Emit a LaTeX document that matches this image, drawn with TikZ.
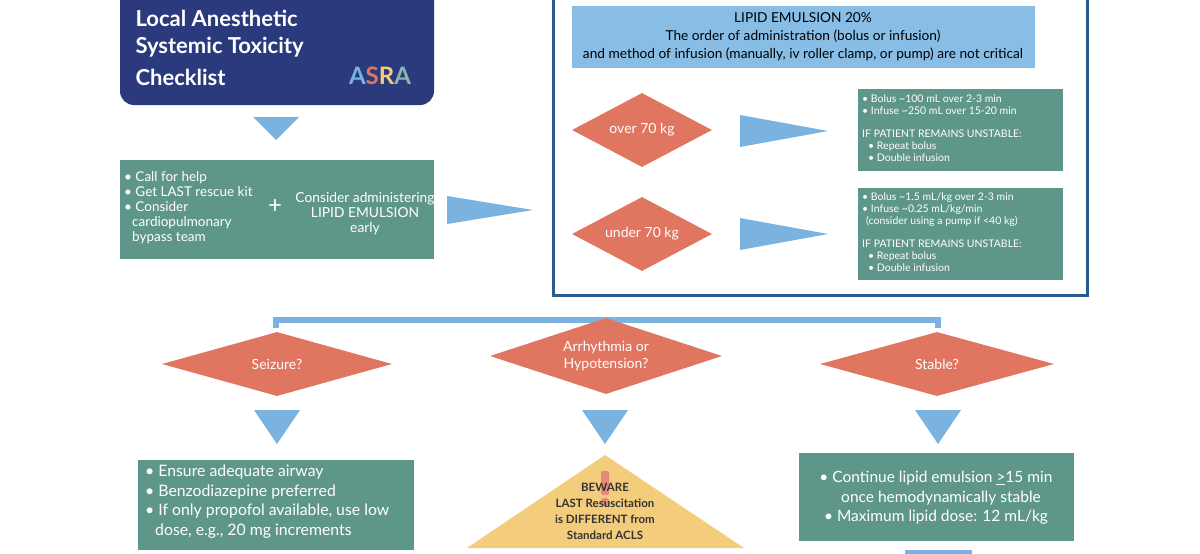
\documentclass[tikz,border=0pt]{standalone}
\usepackage{fontspec}
\setmainfont{Lato}
\usetikzlibrary{shapes.geometric}
\definecolor{navy}{HTML}{2A3A7C}
\definecolor{teal}{HTML}{5F968A}
\definecolor{lb}{HTML}{7AB3E0}
\definecolor{org}{HTML}{E07560}
\definecolor{frame}{HTML}{2D5A8E}
\definecolor{hdr}{HTML}{88BDE6}
\definecolor{yel}{HTML}{F4CD7C}
\begin{document}
\begin{tikzpicture}[x=1pt,y=-1pt,
 tri/.style={fill=lb,draw=none},
 box/.style={fill=teal,draw=none},
 dia/.style={diamond,fill=org,draw=none,inner sep=0pt},
 dl/.style={text=white,font=\fontsize{14}{17}\selectfont,align=center},
 wt/.style={text=white,align=left,inner sep=0pt,anchor=north west}]
\useasboundingbox[fill=white] (0,0) rectangle (1200,554);
\begin{scope}
\clip (0,0) rectangle (1200,554);
% title
\fill[navy,rounded corners=14] (120,-20) rectangle (434,105);
\node[anchor=west,text=white,font=\bfseries\fontsize{22}{23}\selectfont] (t1) at (132,18) {Local Anesthetic};
\node[anchor=west,text=white,font=\bfseries\fontsize{22}{23}\selectfont] (t2) at (132,47) {Systemic Toxicity};
\node[anchor=west,text=white,font=\bfseries\fontsize{22}{23}\selectfont] (t3) at (132,77) {Checklist};
\node[font=\bfseries\fontsize{24}{24}\selectfont] (logo) at (380,76) {\textcolor{lb}{A}\textcolor{org}{S}\textcolor{yel}{R}\textcolor{teal!70}{A}};
\fill[tri] (253,117) -- (299,117) -- (276,140) -- cycle;
% first box
\fill[box] (120,160) rectangle (434,259);
\node[wt,font=\fontsize{13.5}{15}\selectfont] (b1) at (124,171) {• Call for help\\• Get LAST rescue kit\\• Consider\\\hspace*{8pt}cardiopulmonary\\\hspace*{8pt}bypass team};
\node[text=white,font=\fontsize{24}{24}\selectfont] (plus) at (275,207) {+};
\node[text=white,align=center,font=\fontsize{13.8}{15}\selectfont] (b2) at (365,214) {Consider administering\\LIPID EMULSION\\early};
\fill[tri] (447,196) -- (533,210) -- (447,224) -- cycle;
% lipid frame
\draw[frame,line width=3] (553,-5) rectangle (1087,295);
\fill[hdr] (572,6) rectangle (1035,68);
\node[align=center,font=\fontsize{13.7}{18}\selectfont] (h) at (803,37) {LIPID EMULSION 20\%\\The order of administration (bolus or infusion)\\and method of infusion (manually, iv roller clamp, or pump) are not critical};
\node[dia,minimum width=140,minimum height=74] (d1) at (642,130) {};
\node[dl] (d1l) at (d1) {over 70 kg};
\node[dia,minimum width=140,minimum height=74] (d2) at (642,234) {};
\node[dl] (d2l) at (d2) {under 70 kg};
\fill[tri] (740,115) -- (828,131) -- (740,147) -- cycle;
\fill[tri] (740,218) -- (828,234) -- (740,250) -- cycle;
\fill[box] (858,89) rectangle (1063,171);
\node[wt,font=\fontsize{10.5}{12}\selectfont] (g1) at (862,95) {• Bolus \textasciitilde100 mL over 2-3 min\\• Infuse \textasciitilde250 mL over 15-20 min\\[11pt]IF PATIENT REMAINS UNSTABLE:\\\hspace*{6pt}• Repeat bolus\\\hspace*{6pt}• Double infusion};
\fill[box] (858,188) rectangle (1063,280);
\node[wt,font=\fontsize{10.5}{12}\selectfont] (g2) at (862,193) {• Bolus \textasciitilde1.5 mL/kg over 2-3 min\\• Infuse \textasciitilde0.25 mL/kg/min\\\hspace*{4pt}(consider using a pump if <40 kg)\\[11pt]IF PATIENT REMAINS UNSTABLE:\\\hspace*{6pt}• Repeat bolus\\\hspace*{6pt}• Double infusion};
% bracket
\draw[lb,line width=6] (276,328) -- (276,320) -- (938,320) -- (938,328);
\draw[lb,line width=6] (606,320) -- (606,328);
\node[dia,minimum width=230,minimum height=64] (s1) at (277,364) {};
\node[dl] (s1l) at (s1) {Seizure?};
\node[dia,minimum width=232,minimum height=76] (s2) at (606,356) {};
\node[dl] (s2l) at (s2) {Arrhythmia or\\Hypotension?};
\node[dia,minimum width=234,minimum height=64] (s3) at (937,364) {};
\node[dl] (s3l) at (s3) {Stable?};
\fill[tri] (254,410) -- (300,410) -- (277,444) -- cycle;
\fill[tri] (582,410) -- (628,410) -- (605,444) -- cycle;
\fill[tri] (915,410) -- (961,410) -- (938,444) -- cycle;
\fill[box] (138,460) rectangle (414,550);
\node[wt,font=\fontsize{15.8}{19.5}\selectfont] (e1) at (145,465) {• Ensure adequate airway\\• Benzodiazepine preferred\\• If only propofol available, use low\\\hspace*{10pt}dose, e.g., 20 mg increments};
\fill[yel] (605,455) -- (744,548) -- (467,548) -- cycle;
\fill[org!85,rounded corners=1.5] (601,471) rectangle (609,495);
\fill[org!85] (605,502) circle (4.5);
\node[align=center,text=black!80,font=\bfseries\fontsize{11.5}{16}\selectfont] (w) at (605,511) {BEWARE\\LAST Resuscitation\\is DIFFERENT from\\Standard ACLS};
\fill[box] (799,453) rectangle (1074,541);
\node[align=center,text=white,font=\fontsize{15.5}{19.5}\selectfont] (e3) at (936,498) {• Continue lipid emulsion \underline{>}15 min\\\hspace*{10pt}once hemodynamically stable\\• Maximum lipid dose: 12 mL/kg};
\fill[tri] (905,550) rectangle (972,560);
\end{scope}
\end{tikzpicture}
\end{document}
